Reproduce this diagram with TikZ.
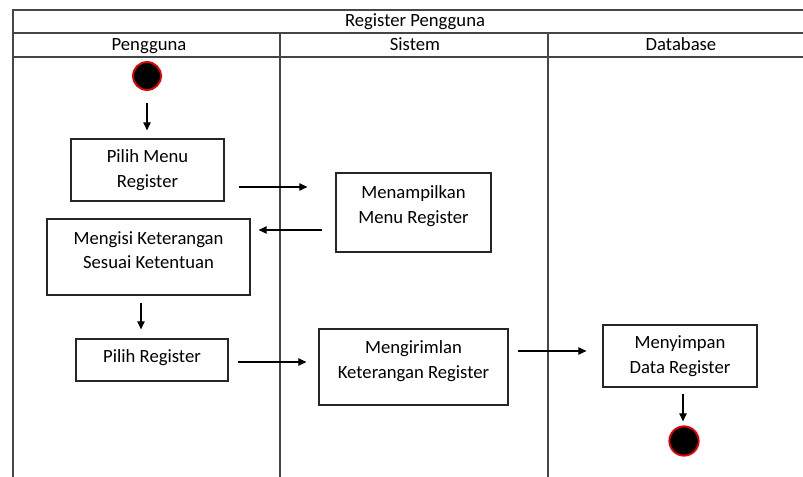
\documentclass[tikz,border=0pt]{standalone}
\usepackage{fontspec}
\setmainfont{Carlito}
\usetikzlibrary{arrows.meta, positioning, calc}
\definecolor{laneline}{RGB}{70, 70, 70}
\definecolor{boxline}{RGB}{38, 38, 38}
\definecolor{dotred}{RGB}{235, 0, 0}

\begin{document}
\begin{tikzpicture}[x=0.75pt, y=-0.75pt,
  lane/.style={draw=laneline, line width=0.9pt},
  box/.style={draw=boxline, line width=0.9pt, fill=white, inner sep=0pt},
  boxtext/.style={align=center, font=\fontsize{14}{18.5}\selectfont},
  headtext/.style={anchor=base, font=\fontsize{14}{16}\selectfont},
  dot/.style={circle, fill=black, draw=dotred, line width=1.4pt, inner sep=0pt},
  flow/.style={-{Triangle[length=6pt, width=5.5pt]}, line width=0.8pt}]
  \useasboundingbox (0,0) rectangle (803,477);

  % Swimlane frame
  \draw[lane] (13,477) -- (13,10) -- (803,10);
  \draw[lane] (13,33) -- (803,33);
  \draw[lane] (13,57) -- (803,57);
  \draw[lane] (280,33) -- (280,477);
  \draw[lane] (548,33) -- (548,477);

  \node[headtext] (title) at (415,27) {Register Pengguna};
  \node[headtext] (lanepengguna) at (149,50.5) {Pengguna};
  \node[headtext] (lanesistem) at (415,50.5) {Sistem};
  \node[headtext] (lanedatabase) at (681,50.5) {Database};

  % Start and end
  \node[dot, minimum size=21pt] (start) at (147,76) {};
  \node[dot, minimum size=22pt] (finish) at (684,441) {};

  % Pengguna lane
  \node[box, minimum width=114.75pt, minimum height=46.5pt] (pilihmenu) at (147.5,170) {};
  \node[boxtext] (pilihmenutext) at (147.5,170) {Pilih Menu\\Register};

  \node[box, minimum width=152.25pt, minimum height=57pt] (mengisi) at (148.5,257) {};
  \node[boxtext] (mengisitext) at (148.5,250) {Mengisi Keterangan\\Sesuai Ketentuan};

  \node[box, minimum width=114pt, minimum height=31.5pt] (pilihreg) at (152,360) {};
  \node[boxtext] (pilihregtext) at (152,358) {Pilih Register};

  % Sistem lane
  \node[box, minimum width=116.25pt, minimum height=59.25pt] (menampil) at (413.5,212.5) {};
  \node[boxtext] (menampiltext) at (413.5,206) {Menampilkan\\Menu Register};

  \node[box, minimum width=141.75pt, minimum height=57pt] (mengirim) at (413.5,367) {};
  \node[boxtext] (mengirimtext) at (413.5,361) {Mengirimlan\\Keterangan Register};

  % Database lane
  \node[box, minimum width=115.5pt, minimum height=46.5pt] (menyimpan) at (680,356) {};
  \node[boxtext] (menyimpantext) at (680,356) {Menyimpan\\Data Register};

  % Flow
  \draw[flow, shorten <=9pt, shorten >=6pt] (start) -- (start |- pilihmenu.north);
  \draw[flow] ([shift={(14,17)}]pilihmenu.east) -- ([shift={(-28,-25.5)}]menampil.west);
  \draw[flow] ([shift={(-13,17.5)}]menampil.west) -- ([shift={(8,-27)}]mengisi.east);
  \draw[flow] ([shift={(-7.5,7)}]mengisi.south) -- ([shift={(-11,-9)}]pilihreg.north);
  \draw[flow] ([shift={(9,2)}]pilihreg.east) -- ([shift={(-12,-5)}]mengirim.west);
  \draw[flow] ([shift={(9,-16)}]mengirim.east) -- ([shift={(-16,-5)}]menyimpan.west);
  \draw[flow] ([shift={(3,6)}]menyimpan.south) -- ([shift={(-1,-4)}]finish.north);
\end{tikzpicture}
\end{document}
